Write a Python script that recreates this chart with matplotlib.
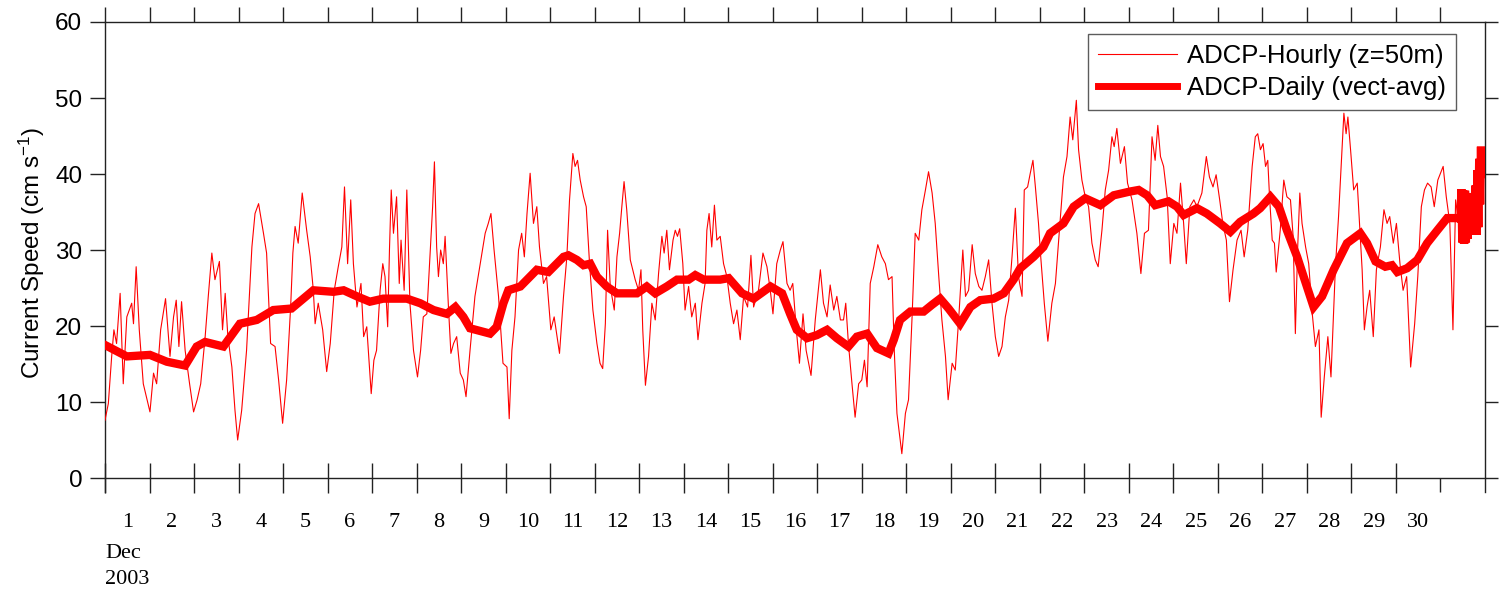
import matplotlib
matplotlib.use("Agg")
import matplotlib.pyplot as plt
import matplotlib.lines as mlines

# ---------------- data (days since 1 Dec 2003 00:00, current speed cm/s) ----------------
hourly_day = [
    0.00, 0.075, 0.15, 0.20, 0.26, 0.34, 0.41, 0.49, 0.60, 0.64, 0.70, 0.77, 0.86, 1.01, 1.09, 1.16,
    1.25, 1.36, 1.46, 1.54, 1.60, 1.66, 1.72, 1.80, 1.90, 1.99, 2.07, 2.15, 2.25, 2.32, 2.40, 2.47,
    2.57, 2.64, 2.70, 2.76, 2.85, 2.92, 2.98, 3.07, 3.18, 3.30, 3.37, 3.45, 3.56, 3.63, 3.72, 3.82,
    3.90, 3.99, 4.08, 4.17, 4.22, 4.27, 4.34, 4.43, 4.53, 4.61, 4.68, 4.72, 4.79, 4.89, 4.98, 5.06,
    5.15, 5.24, 5.32, 5.38, 5.45, 5.52, 5.58, 5.66, 5.75, 5.81, 5.88, 5.98, 6.04, 6.10, 6.18, 6.24,
    6.29, 6.35, 6.39, 6.43, 6.48, 6.55, 6.61, 6.65, 6.72, 6.78, 6.85, 6.93, 7.02, 7.09, 7.15, 7.23,
    7.30, 7.36, 7.40, 7.45, 7.49, 7.54, 7.60, 7.64, 7.715, 7.77, 7.83, 7.90, 7.98, 8.05, 8.11, 8.20,
    8.31, 8.43, 8.54, 8.61, 8.67, 8.74, 8.84, 8.94, 9.03, 9.08, 9.14, 9.21, 9.29, 9.36, 9.42, 9.48,
    9.55, 9.625, 9.70, 9.76, 9.85, 9.92, 10.015, 10.09, 10.21, 10.30,
    10.375, 10.435, 10.51, 10.56, 10.615, 10.675, 10.75, 10.81, 10.885, 10.96, 11.05, 11.12, 11.18,
    11.24, 11.29, 11.35, 11.44, 11.50, 11.56, 11.61, 11.66, 11.72, 11.80, 11.91, 11.985, 12.04,
    12.08, 12.14, 12.21, 12.285, 12.36, 12.435, 12.51, 12.56, 12.62, 12.68, 12.76, 12.81, 12.86,
    12.91, 12.98, 13.03, 13.11, 13.18, 13.26, 13.32, 13.41, 13.48, 13.52, 13.57, 13.63, 13.69,
    13.745, 13.82, 13.895, 13.97, 14.045, 14.12, 14.195, 14.27, 14.345, 14.435, 14.51, 14.57,
    14.68, 14.78, 14.87, 14.945, 15.005, 15.09, 15.17, 15.23, 15.32, 15.39,
    15.45, 15.53, 15.60, 15.68, 15.75, 15.86, 15.955, 16.07, 16.14, 16.22, 16.29, 16.37, 16.44,
    16.52, 16.59, 16.64, 16.70, 16.78, 16.85, 16.93, 17.00, 17.06, 17.12, 17.19, 17.27, 17.36,
    17.45, 17.53, 17.60, 17.68, 17.73, 17.79, 17.90, 17.98, 18.05, 18.13, 18.20, 18.28, 18.35,
    18.43, 18.50, 18.58, 18.65, 18.73, 18.80, 18.88, 18.94, 19.03, 19.10, 19.18, 19.27, 19.33,
    19.40, 19.48, 19.55, 19.63, 19.70, 19.775, 19.85, 19.925, 20.00, 20.075, 20.15, 20.225, 20.30,
    20.375, 20.45, 20.52, 20.60,
    20.65, 20.725, 20.785, 20.845, 20.90, 20.97, 21.02, 21.10, 21.18, 21.27, 21.35, 21.44, 21.53,
    21.61, 21.68, 21.74, 21.82, 21.87, 21.945, 22.02, 22.095, 22.17, 22.245, 22.31, 22.395, 22.47,
    22.545, 22.62, 22.67, 22.73, 22.81, 22.90, 22.97, 23.07, 23.18, 23.27, 23.35, 23.44, 23.52,
    23.59, 23.65, 23.71, 23.78, 23.86, 23.93, 24.01, 24.08, 24.16, 24.23, 24.29, 24.37, 24.46,
    24.53, 24.64, 24.74, 24.81, 24.89, 24.96, 25.04, 25.11, 25.19, 25.26, 25.34, 25.43, 25.52,
    25.59, 25.67, 25.77,
    25.84, 25.895, 25.955, 26.015, 26.07, 26.12, 26.16, 26.22, 26.27, 26.31, 26.40, 26.48, 26.55,
    26.63, 26.69, 26.74, 26.79, 26.84, 26.89, 26.97, 27.04, 27.12, 27.19, 27.27, 27.32, 27.39,
    27.47, 27.54, 27.64, 27.71, 27.79, 27.83, 27.88, 27.92, 27.98, 28.05, 28.13, 28.19, 28.24,
    28.29, 28.35, 28.41, 28.49, 28.56, 28.65, 28.73, 28.80, 28.86, 28.94, 29.01, 29.09, 29.16,
    29.24, 29.33, 29.42, 29.49, 29.57, 29.64, 29.71, 29.79, 29.86, 29.94, 30.00, 30.06, 30.13,
    30.21, 30.28, 30.34, 30.41,
]
hourly_speed = [
    7.6, 9.8, 16, 19.5, 17.7, 24.3, 12.4, 21.2, 23, 20.3, 27.8, 19.5, 12.4, 8.7, 13.8, 12.4,
    19.5, 23.6, 16, 21.2, 23.4, 17.3, 23.2, 16.8, 12.4, 8.7, 10.3, 12.4, 18.6, 23.9, 29.6, 26.1,
    28.5, 19.5, 24.3, 18.6, 14.6, 8.9, 5.0, 8.9, 16.8, 30.4, 34.8, 36.1, 32.2, 29.6, 17.7, 17.3,
    12.9, 7.2, 12.9, 22.5, 29.6, 33.1, 30.9, 37.5, 32.6, 29.1, 24.7, 20.3, 23, 19.5, 14, 17.7,
    24.7, 27.8, 30.4, 38.3, 28.2, 36.6, 28.2, 22.5, 25.6, 18.6, 19.9, 11.1, 15.5, 16.8, 24.7, 28.2,
    26.5, 19.9, 30, 37.9, 32.2, 37, 25.6, 31.3, 24.7, 37.9, 23, 16.8, 13.3, 16.8, 21.2, 21.6,
    29.1, 35.7, 41.6, 30.4, 26.5, 30, 28.2, 31.8, 22.5, 16.4, 17.7, 18.6, 13.8, 12.9, 10.7, 16.8,
    23.9, 28.2, 32.2, 33.5, 34.8, 30, 23.9, 15.1, 14.6, 7.8, 16.8, 21.2, 30, 32.2, 29.1, 34.8,
    40.1, 33.5, 35.7, 30.4, 25.6, 26.5, 19.5, 21.2, 16.4, 23.9,
    29.1, 36.6, 42.7, 41, 41.8, 39.2, 37, 35.7, 28.2, 22.1, 17.7, 15.1, 14.4,
    20.3, 32.6, 25.2, 22.1, 29.1, 32.2, 35.7, 39, 35.3, 28.7, 26.1, 24.7, 27.4,
    19.5, 12.2, 16, 23, 20.8, 26.9, 31.8, 29.6, 32.6, 27.4, 31.3, 32.6, 31.8,
    32.8, 28.2, 22.1, 25.2, 21.2, 23, 18.2, 23, 25.6, 32.6, 34.8, 30.4, 35.9,
    31.3, 31.8, 28.2, 26.5, 23, 20.3, 22.1, 18.2, 23.9, 22.5, 29.3, 22.5,
    24.7, 29.6, 27.8, 24.7, 21.6, 28.2, 30, 31.1, 25.6, 24.7,
    25.6, 19.5, 15.1, 21.6, 16.8, 13.5, 20.8, 27.4, 23, 21.2, 25.4, 22.1, 23.9,
    20.8, 20.8, 23, 17.7, 12.4, 8.0, 12.4, 12.9, 15.5, 12.0, 25.6, 27.8, 30.7,
    29.1, 28.2, 26.1, 26.5, 16.8, 8.5, 3.2, 8.5, 10.3, 21.2, 32.2, 31.3, 35.3,
    37.9, 40.3, 37.5, 33.5, 26.5, 20.8, 16, 10.3, 15.1, 14.2, 21.2, 30, 23.9,
    24.7, 30.7, 26.9, 25.2, 24.7, 26.5, 28.7, 23, 18.6, 16, 17.3, 21.2, 23.4,
    29.1, 35.5, 26.5, 23.9,
    37.9, 38.3, 40.1, 41.8, 38.3, 33.5, 29.1, 23, 18, 23, 25.6, 32.6, 39.6,
    42.3, 47.5, 44.5, 49.7, 43.2, 39.2, 37, 35.7, 30.9, 28.7, 27.8, 32.6, 37.9,
    40.5, 44.9, 43.6, 46, 41.4, 43.6, 38.8, 36.6, 32.2, 26.9, 32.2, 32.6, 44.9,
    41.8, 46.4, 42.3, 41, 37, 28.2, 33.5, 32.2, 38.8, 33.5, 28.2, 35.7, 36.6,
    35.7, 37.5, 42.3, 39.6, 38.3, 39.9, 36.6, 33.5, 31.3, 23.2, 27.4, 31.3, 32.6,
    29.1, 32.6, 41,
    44.9, 45.3, 43.2, 44, 41, 41.8, 37, 31.3, 30.9, 27.1, 32.6, 39.2, 37,
    36.6, 31.8, 19, 30, 37.5, 33.5, 30.4, 28.2, 21.6, 17.3, 19.5, 8.0, 13.3,
    18.6, 13.3, 27.8, 34.4, 43.6, 48, 45.3, 47.5, 43.2, 37.9, 38.8, 32.6, 27.4,
    19.5, 22.5, 24.7, 18.6, 27.4, 30.4, 35.3, 33.5, 34.4, 30.9, 33.5, 28.2, 24.7,
    26.5, 14.6, 20.3, 26.5, 35.7, 37.9, 38.8, 38.3, 35.7, 39.2, 40.1, 41, 37,
    33.5, 19.5, 36.6, 33.5,
]

daily_day = [
    0.00, 0.49, 1.01, 1.39, 1.80, 2.06, 2.25, 2.66, 3.03, 3.41, 3.78, 4.19, 4.68, 5.13, 5.36, 5.66,
    5.95, 6.25, 6.78, 7.08, 7.38, 7.68, 7.87, 8.05, 8.20, 8.65, 8.80, 8.95, 9.06, 9.33, 9.55, 9.70,
    9.96, 10.30, 10.41, 10.60, 10.75, 10.90, 11.05, 11.27, 11.50, 11.95, 12.17, 12.36, 12.62, 12.85,
    13.11, 13.26, 13.45, 13.82, 14.01, 14.31, 14.57, 14.95, 15.21, 15.39, 15.54, 15.77, 15.99, 16.22,
    16.44, 16.70, 16.89, 17.12, 17.34, 17.60, 17.72, 17.86, 18.09, 18.39, 18.58, 18.76, 18.95, 19.21,
    19.44, 19.66, 19.96, 20.19, 20.41, 20.56, 20.86, 21.08, 21.23, 21.53, 21.76, 22.02, 22.36, 22.66,
    23.03, 23.22, 23.41, 23.59, 23.89, 24.08, 24.23, 24.53, 24.75, 25.05, 25.28, 25.50, 25.80, 25.95,
    26.18, 26.37, 26.55, 26.78, 27.00, 27.15, 27.34, 27.60, 27.90, 28.20, 28.35, 28.54, 28.76, 28.91,
    29.03, 29.25, 29.48, 29.70, 29.93, 30.15, 30.41,
    30.45, 30.47, 30.49, 30.51, 30.53, 30.55, 30.57, 30.59, 30.61, 30.63, 30.65, 30.67, 30.69, 30.71,
    30.73, 30.75, 30.77, 30.79, 30.81, 30.83, 30.85, 30.87, 30.89, 30.91, 30.92,
]
daily_speed = [
    17.5, 16.0, 16.2, 15.3, 14.8, 17.3, 17.9, 17.3, 20.3, 20.8, 22.1, 22.3, 24.7, 24.5, 24.7, 23.9,
    23.2, 23.6, 23.6, 23.0, 22.1, 21.6, 22.5, 21.2, 19.7, 19.0, 19.9, 23.0, 24.7, 25.2, 26.5, 27.4,
    27.1, 29.1, 29.3, 28.7, 28.0, 28.2, 26.5, 25.2, 24.3, 24.3, 25.2, 24.3, 25.2, 26.1,
    26.1, 26.7, 26.1, 26.1, 26.3, 24.3, 23.6, 25.2, 24.3, 21.6, 19.5, 18.4, 18.8, 19.5,
    18.4, 17.3, 18.6, 19.0, 17.1, 16.4, 18.2, 20.8, 21.9, 21.9, 22.8, 23.6, 22.3, 20.3,
    22.5, 23.4, 23.6, 24.3, 26.1, 27.6, 29.1, 30.4, 32.2, 33.5, 35.7, 36.8, 35.9, 37.2,
    37.7, 37.9, 37.2, 35.9, 36.4, 35.7, 34.6, 35.5, 34.8, 33.5, 32.4, 33.7, 34.8, 35.5,
    37.0, 35.7, 32.6, 29.1, 25.2, 22.5, 23.9, 27.4, 30.9, 32.2, 30.9, 28.5, 27.8, 28.0,
    27.1, 27.6, 28.7, 30.9, 32.6, 34.2, 34.2,
    34.0, 38.0, 31.0, 37.8, 30.8, 37.8, 31.0, 37.5, 31.5, 36.5, 32.0, 36.5, 32.2, 36.5,
    32.3, 36.8, 32.0, 38.5, 32.0, 40.5, 33.0, 42.0, 36.0, 43.6, 40.0,
]

day_labels = [str(d) for d in range(1, 31)]
series_labels = ["ADCP-Hourly (z=50m)", "ADCP-Daily (vect-avg)"]

# ---------------- style ----------------
SANS = "Liberation Sans"
SERIF = "Liberation Serif"
plt.rcParams["font.family"] = SANS
plt.rcParams["mathtext.fontset"] = "custom"
plt.rcParams["mathtext.rm"] = SANS
plt.rcParams["mathtext.default"] = "regular"

W, H = 1499, 592
fig = plt.figure(figsize=(W / 100, H / 100), dpi=100)
ax = fig.add_axes([105 / W, 1 - 492 / H, (1485 - 105) / W, (492 - 22) / H])

ax.plot(hourly_day, hourly_speed, color="#ff0000", lw=0.8, label=series_labels[0], zorder=3)
ax.plot(daily_day, daily_speed, color="#ff0000", lw=6.0, label=series_labels[1], zorder=4,
        solid_joinstyle="miter")

ax.set_xlim(0, 31)
ax.set_ylim(-1.84, 60)
ax.spines["bottom"].set_position(("data", 0))
for s in ax.spines.values():
    s.set_linewidth(1.0)
    s.set_color("#222222")

# x ticks
ax.set_xticks(range(0, 31))
ax.set_xticklabels([])
ax.set_xticks([d + 0.5 for d in range(30)], minor=True)
ax.set_xticklabels(day_labels, minor=True, fontfamily=SERIF, fontsize=16)
ax.tick_params(axis="x", which="major", direction="inout", length=21.6, width=1.0,
               color="#222222", top=True, bottom=True)
ax.tick_params(axis="x", which="minor", length=0, pad=25)
# y ticks
ax.set_yticks(range(0, 61, 10))
ax.tick_params(axis="y", which="major", direction="out", length=10.8, width=1.0,
               color="#222222", labelsize=17.5, pad=5.5, right=True)

ax.set_ylabel(r"Current Speed (cm s$^{-1}$)", fontsize=17.5)
ax.yaxis.set_label_coords(-0.042, 0.51)

fig.text(105 / W, 1 - 558 / H, "Dec", fontfamily=SERIF, fontsize=16, va="baseline", ha="left")
fig.text(105 / W, 1 - 584 / H, "2003", fontfamily=SERIF, fontsize=16, va="baseline", ha="left")

leg = ax.legend(loc="upper right", bbox_to_anchor=(1456 / W, 1 - 34 / H),
                bbox_transform=fig.transFigure, fontsize=18.5, frameon=True, fancybox=False,
                borderpad=0.4, handlelength=3.1, handletextpad=0.36, labelspacing=0.3,
                borderaxespad=0)
leg.get_frame().set_edgecolor("#333333")
leg.get_frame().set_linewidth(1.0)
leg.get_lines()[1].set_linewidth(5.0)

# Outward top ticks; the last bottom tick (day 30) points only downward
for t in ax.xaxis.get_major_ticks():
    t.tick2line.set_marker(mlines.TICKUP)
    t.tick2line.set_markersize(10.8)
last = ax.xaxis.get_major_ticks()[30]
last.tick1line.set_marker(mlines.TICKDOWN)
last.tick1line.set_markersize(10.2)
for t in ax.yaxis.get_major_ticks():
    t.tick2line.set_markersize(9.4)

fig.savefig("out.png", dpi=100)
